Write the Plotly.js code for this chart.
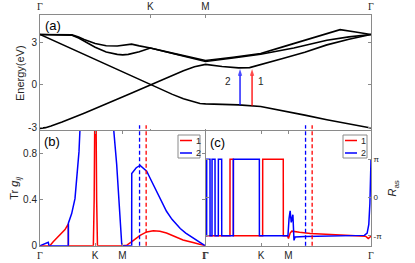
<!DOCTYPE html>
<html><head><meta charset="utf-8">
<script src="https://cdn.plot.ly/plotly-3.0.1.min.js"></script>
<style>html,body{margin:0;padding:0;background:#fff}#chart{width:415px;height:263px}</style>
</head><body><div id="chart"></div>
<script>
// ---- path ticks ----
const kTicks = [0, 1, 1.5, 3];
const G = "<span style='font-family:\"Liberation Serif\",serif'>Γ</span>";
const kLabels = [G, 'K', 'M', G];

// ---- (a) band structure ----
const bandLinK = [0, 0.1, 0.3, 0.5, 0.7, 0.9, 1.0, 1.1, 1.2, 1.3, 1.4, 1.45, 1.5, 1.65, 1.8, 2.0, 2.2, 2.4, 2.6, 2.8, 3.0];
const bandLinE = [3.55, 3.2, 2.5, 1.78, 1.07, 0.36, 0, -0.33, -0.66, -0.97, -1.22, -1.3, -1.33, -1.35, -1.4, -1.51, -1.8, -2.12, -2.44, -2.74, -3.02];
const bandValK = [0, 0.05, 0.1, 0.2, 0.4, 0.6, 0.8, 1.0, 1.1, 1.2, 1.3, 1.4, 1.5, 1.65, 1.8, 1.9, 2.0, 2.2, 2.4, 2.6, 2.8, 3.0];
const bandValE = [-3.05, -3.0, -2.88, -2.6, -1.98, -1.34, -0.67, 0, 0.33, 0.68, 1.0, 1.28, 1.45, 1.3, 1.2, 1.22, 1.42, 1.86, 2.3, 2.82, 3.22, 3.55];
const bandAK = [0, 0.15, 0.29, 0.35, 0.4, 0.5, 0.6, 0.7, 0.8, 0.83, 0.9, 1.0, 1.25, 1.5, 1.75, 2.0, 2.2, 2.4, 2.6, 2.72, 2.86, 3.0];
const bandAE = [3.55, 3.55, 3.52, 3.38, 3.2, 2.92, 2.76, 2.74, 2.83, 2.87, 2.75, 2.6, 2.15, 1.72, 1.95, 2.21, 2.68, 3.14, 3.61, 3.89, 3.72, 3.55];
const bandBK = [0, 0.15, 0.29, 0.35, 0.4, 0.5, 0.6, 0.7, 0.75, 0.8, 0.9, 1.0, 1.25, 1.5, 1.75, 2.0, 2.3, 2.6, 2.8, 3.0];
const bandBE = [3.55, 3.54, 3.5, 3.3, 3.1, 2.65, 2.32, 2.15, 2.12, 2.15, 2.33, 2.6, 2.12, 1.65, 1.9, 2.16, 2.6, 3.15, 3.38, 3.55];

// transitions 2 (blue) and 1 (red)
const arrowK = [1.813, 1.922];
const arrowFrom = [-1.4, -1.46];
const arrowTo = [1.12, 1.12];
const arrowLabels = ['2', '1'];
const arrowLabelK = [1.7, 2.0];
const arrowLabelE = [0.28, 0.28];

// ---- (b) Tr g_ij ----
const g1K = [0, 0.18, 0.24, 0.36, 0.455, 0.515, 0.516, 0.97, 0.985, 0.995, 1.02, 1.03, 1.045, 1.5, 1.58, 1.67, 1.75, 1.82, 1.94, 2.06, 2.18, 2.3, 2.45, 2.6, 2.8, 3.0];
const g1V = [0, 0, 0.035, 0.09, 0.14, 0.19, 0, 0, 0.4, 1.05, 1.05, 0.4, 0, 0, 0.005, 0.035, 0.065, 0.09, 0.12, 0.13, 0.125, 0.11, 0.08, 0.05, 0.025, 0];
const g2K = [0, 0.08, 0.15, 0.165, 0.515, 0.516, 0.576, 0.636, 0.678, 0.709, 0.73, 1.333, 1.394, 1.44, 1.485, 1.5, 1.667, 1.668, 1.75, 1.82, 1.94, 2.0, 2.12, 2.2, 2.3, 2.4, 2.55, 2.65, 2.79, 2.9, 3.0];
const g2V = [0, 0.015, 0.03, 0, 0, 0.196, 0.28, 0.41, 0.62, 0.82, 1.05, 1.05, 0.71, 0.33, 0.02, 0, 0, 0.63, 0.68, 0.70, 0.65, 0.59, 0.47, 0.39, 0.30, 0.23, 0.15, 0.11, 0.065, 0.03, 0];

// ---- (c) R_as (units of pi) ----
const r1K = [0, 0.436, 0.437, 0.497, 0.498, 1.03, 1.031, 1.405, 1.406, 1.48, 1.5, 1.53, 1.56, 1.6, 1.7, 1.9, 2.2, 2.5, 2.8, 2.9, 2.95, 2.98, 3.0];
const r1V = [-1, -1, 1, 1, -1, -1, 1, 1, -1, -1, -1.07, -0.93, -0.88, -0.89, -0.91, -0.94, -0.965, -0.98, -1.0, -1.01, -1.07, -1.04, -0.99];
const r2K = [0, 0.012, 0.013, 0.073, 0.074, 0.109, 0.11, 0.164, 0.165, 0.224, 0.225, 0.285, 0.286, 0.497, 0.498, 0.97, 0.971, 1.49, 1.51, 1.53, 1.55, 1.58, 1.6, 1.62, 1.8, 2.2, 2.6, 2.88, 2.93, 2.96, 2.98, 2.99, 3.0];
const r2V = [-1, -1, 1, 1, -1, -1, 1, 1, -1, -1, 1, 1, -1, -1, 1, 1, -1, -1, -0.55, -0.35, -0.65, -0.45, -1.12, -1.03, -1.02, -1.01, -1.0, -0.99, -0.93, -0.7, -0.15, 0.5, 1.0];

const dashK = [1.81, 1.93];
const seriesNames = ['1', '2'];
const RED = '#ff0000', BLUE = '#0000ff';
const seriesColors = [RED, BLUE];
const dashColors = [BLUE, RED];
const arrowColors = [BLUE, RED];

const black = {color: '#000', width: 1.6};
const traces = [
  {x: bandLinK, y: bandLinE, xaxis: 'x', yaxis: 'y', mode: 'lines', line: black},
  {x: bandValK, y: bandValE, xaxis: 'x', yaxis: 'y', mode: 'lines', line: black},
  {x: bandAK, y: bandAE, xaxis: 'x', yaxis: 'y', mode: 'lines', line: black},
  {x: bandBK, y: bandBE, xaxis: 'x', yaxis: 'y', mode: 'lines', line: black},
  {x: g1K, y: g1V, xaxis: 'x2', yaxis: 'y2', mode: 'lines', name: seriesNames[0], line: {color: RED, width: 1.5}},
  {x: g2K, y: g2V, xaxis: 'x2', yaxis: 'y2', mode: 'lines', name: seriesNames[1], line: {color: BLUE, width: 1.5}},
  {x: r1K, y: r1V, xaxis: 'x3', yaxis: 'y3', mode: 'lines', name: seriesNames[0], line: {color: RED, width: 1.5}},
  {x: r2K, y: r2V, xaxis: 'x3', yaxis: 'y3', mode: 'lines', name: seriesNames[1], line: {color: BLUE, width: 1.5}}
];
arrowK.forEach(function (k, i) {
  traces.push({x: [k, k], y: [arrowFrom[i], arrowTo[i]], xaxis: 'x', yaxis: 'y', mode: 'lines+markers',
    line: {color: arrowColors[i], width: 1.3},
    marker: {symbol: 'arrow', angleref: 'previous', size: [0, 7], color: arrowColors[i], line: {width: 0}}});
});

const shapes = [];
['x2', 'x3'].forEach(function (xr) {
  const yr = xr === 'x2' ? 'y2 domain' : 'y3 domain';
  dashK.forEach(function (k, i) {
    shapes.push({type: 'line', xref: xr, yref: yr, x0: k, x1: k, y0: 0, y1: 1.05,
      line: {color: dashColors[i], width: 1.3, dash: '4px,2.5px'}});
  });
});

const annotations = [];
arrowK.forEach(function (k, i) {
  annotations.push({xref: 'x', yref: 'y', x: arrowLabelK[i], y: arrowLabelE[i], text: arrowLabels[i],
    showarrow: false, font: {size: 10, color: '#262626'}});
});

// compact legends (box, line samples, labels), pixel placement
function P(px, py) { return [px / 415, 1 - py / 263]; }
const legendBoxes = [{x0: 178, x1: 200}, {x0: 343, x1: 367}];
legendBoxes.forEach(function (b) {
  const a = P(b.x0, 135), c = P(b.x1, 158);
  shapes.push({type: 'rect', xref: 'paper', yref: 'paper', x0: a[0], y0: a[1], x1: c[0], y1: c[1],
    fillcolor: '#fff', line: {color: '#8a8a8a', width: 1}, layer: 'above'});
  seriesNames.forEach(function (nm, i) {
    const yy = 140.5 + i * 12.5;
    const s0 = P(b.x0 + 2, yy), s1 = P(b.x0 + 14, yy);
    shapes.push({type: 'line', xref: 'paper', yref: 'paper', x0: s0[0], y0: s0[1], x1: s1[0], y1: s1[1],
      line: {color: seriesColors[i], width: 1.5}, layer: 'above'});
    const t = P(b.x0 + 16, yy);
    annotations.push({xref: 'paper', yref: 'paper', x: t[0], y: t[1], xanchor: 'left', yanchor: 'middle',
      text: nm, showarrow: false, font: {size: 9, color: '#262626'}});
  });
});

const panelFont = {family: 'Liberation Sans, Arial, sans-serif', size: 13, color: '#000'};
annotations.push({xref: 'paper', yref: 'paper', x: 43/415, y: 1 - 25/263, xanchor: 'left', yanchor: 'middle', text: '(a)', showarrow: false, font: panelFont});
annotations.push({xref: 'paper', yref: 'paper', x: 42/415, y: 1 - 141/263, xanchor: 'left', yanchor: 'middle', text: '(b)', showarrow: false, font: panelFont});
annotations.push({xref: 'paper', yref: 'paper', x: 208/415, y: 1 - 142/263, xanchor: 'left', yanchor: 'middle', text: '(c)', showarrow: false, font: panelFont});

const tickFont = {family: 'Liberation Sans, Arial, sans-serif', size: 10, color: '#262626'};
const axBase = {showgrid: false, zeroline: false, showline: true, linecolor: '#8a8a8a', linewidth: 1,
  ticks: 'inside', ticklen: 3, tickcolor: '#8a8a8a', mirror: 'ticks', tickfont: tickFont, fixedrange: true};
function ax(o) { return Object.assign({}, axBase, o); }

const SUB = "<span style='font-size:8px;baseline-shift:-3px'>";
const layout = {
  width: 415, height: 263, autosize: false, showlegend: false,
  margin: {l: 0, r: 0, t: 0, b: 0},
  paper_bgcolor: '#fff', plot_bgcolor: '#fff',
  font: {family: 'Liberation Sans, Arial, sans-serif', color: '#262626'},
  xaxis: ax({domain: [40/415, 371/415], anchor: 'y', side: 'top', range: [0, 3], tickvals: kTicks, ticktext: kLabels}),
  yaxis: ax({domain: [1 - 131.5/263, 1 - 15/263], anchor: 'x', range: [-3.27, 4.92], tickvals: [-3, 0, 3], ticktext: ['-3', '0', '3'],
    title: {text: 'Energy(eV)', font: {size: 11, color: '#262626'}, standoff: 1}}),
  xaxis2: ax({domain: [40/415, 205/415], anchor: 'y2', range: [0, 3], tickvals: kTicks, ticktext: kLabels}),
  yaxis2: ax({domain: [1 - 245.7/263, 1 - 131/263], anchor: 'x2', range: [0, 1.0], tickvals: [0, 0.4, 0.8], ticktext: ['0', '0.4', '0.8'],
    title: {text: 'Tr <i>g</i>' + SUB + '<i>ij</i></span>', font: {size: 11, color: '#262626'}, standoff: 1}}),
  xaxis3: ax({domain: [206/415, 371/415], anchor: 'y3', range: [0, 3], tickvals: kTicks, ticktext: kLabels}),
  yaxis3: ax({domain: [1 - 245.7/263, 1 - 131/263], anchor: 'x3', side: 'right', range: [-1.26, 1.74], tickvals: [-1, 0, 1], ticktext: ['-π', '0', 'π'],
    tickfont: {family: 'Liberation Sans, Arial, sans-serif', size: 8, color: '#262626'},
    title: {text: '<i>R</i>' + SUB + 'as</span>', font: {size: 11, color: '#262626'}, standoff: 7}}),
  shapes: shapes,
  annotations: annotations
};

Plotly.newPlot('chart', traces, layout, {staticPlot: true, displayModeBar: false});
</script></body></html>
